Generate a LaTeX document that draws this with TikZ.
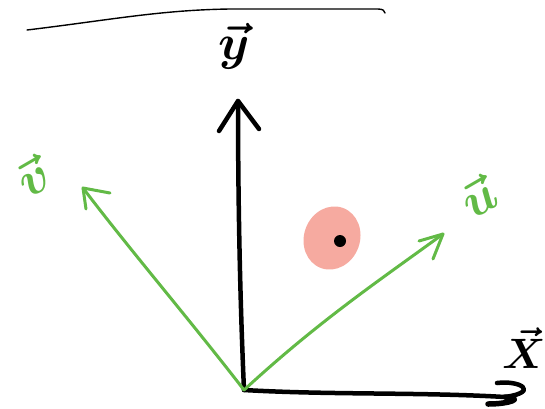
\documentclass[tikz,border=0pt]{standalone}
\usetikzlibrary{arrows.meta}
\definecolor{vgreen}{RGB}{98,186,70}
\definecolor{blob}{RGB}{246,170,160}
\begin{document}
\begin{tikzpicture}[x=1pt,y=-1pt,line cap=round,line join=round,
  axis/.style={draw=black,line width=4.5pt},
  basis/.style={draw=vgreen,line width=3pt},
  lbl/.style={scale=5,font=\boldmath},
  glbl/.style={lbl,text=vgreen}]
\useasboundingbox (0,0) rectangle (545,408);
\coordinate (O) at (244,390);
\coordinate (Y) at (238,101);
\coordinate (U) at (443,234);
\coordinate (V) at (83,188);
\coordinate (XE) at (505,397);
% top line
\draw[line width=1.4pt] (27,30) .. controls (110,20) and (160,10) .. (230,9) -- (378,9) .. controls (383,9) and (385,11) .. (385,13);
% y axis
\draw[axis] (O) .. controls (240,300) and (238,200) .. (Y);
\draw[axis] (219,131) -- (Y) -- (259,129);
% x axis
\draw[axis] (O) .. controls (330,395) and (420,392) .. (XE) .. controls (540,392) and (520,380) .. (497,383);
\draw[axis,line width=5.5pt] (XE) .. controls (525,398) and (510,404) .. (488,404);
% basis vectors
\draw[basis] (O) .. controls (320,320) and (380,280) .. (U);
\draw[basis] (419,241) -- (U) -- (433,259);
\draw[basis] (O) .. controls (190,320) and (130,250) .. (V);
\draw[basis] (86,209) -- (V) -- (110,193);
% blob
\fill[blob,rotate around={-20:(332,238)}] (332,238) ellipse (28pt and 32pt);
\fill[black] (340,241) circle (6pt);
% labels
\node[lbl] (ly) at (234,46) {$\vec{y}$};
\node[lbl,scale=0.85] (lx) at (524,348) {$\vec{X}$};
\node[glbl,rotate=30] (lu) at (478,196) {$\vec{u}$};
\node[glbl,rotate=30] (lv) at (32,176) {$\vec{v}$};
\end{tikzpicture}
\end{document}
